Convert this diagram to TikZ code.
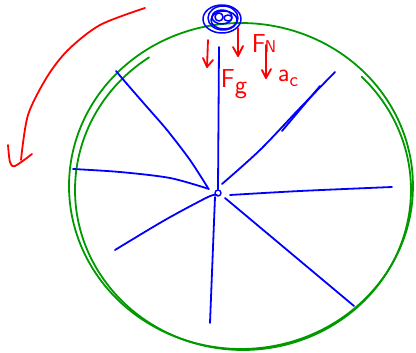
\documentclass[tikz,border=0pt]{standalone}
\usepackage{tikz}
\tikzset{
  rim/.style={green!60!black,line width=1.8pt},
  spoke/.style={blue,line width=1.8pt},
  pen/.style={red,line width=1.8pt},
  lbl/.style={red,inner sep=0pt,font=\sffamily\fontsize{26}{26}\selectfont}
}
\begin{document}
\begin{tikzpicture}[x=1pt,y=-1pt,line cap=round,line join=round]
  \useasboundingbox (0,0) rectangle (416,353);
  % wheel rim, drawn twice by hand
  \draw[rim] plot[domain=0:360,samples=90,smooth] ({241+172*cos(\x)},{186+163*sin(\x)});
  \draw[rim] plot[domain=236:-45,samples=80,smooth] ({243+168*cos(\x)},{190+160*sin(\x)});
  % hub and spokes
  \node[spoke,circle,draw,line width=1.4pt,inner sep=0pt,minimum size=6pt] (hub) at (218,193) {};
  \draw[spoke] (219,47) -- (hub.north);
  \draw[spoke] (215,197) -- (210,323);
  \draw[spoke] plot[smooth] coordinates {(73,169) (120,172) (170,178) (209,189)};
  \draw[spoke] plot[smooth] coordinates {(230,195) (300,191) (392,187)};
  \draw[spoke] plot[smooth] coordinates {(116,71) (127,84) (147,107) (167,130) (190,160) (208,188)};
  \draw[spoke] plot[smooth] coordinates {(222,184) (260,150) (300,108) (335,72)};
  \draw[spoke] (282,131) -- (320,86);
  \draw[spoke] plot[smooth] coordinates {(115,250) (165,220) (208,197) (217,195)};
  \draw[spoke] (225,198) -- (354,306);
  % ball on top
  \foreach \cx/\cy/\rx/\ry in {222/19/19/14,223/18/15/12,224/20/13/9,222/17/10/7}{
    \draw[spoke,line width=1.5pt] (\cx,\cy) ellipse [x radius=\rx,y radius=\ry];
  }
  \draw[spoke,line width=1.5pt] (219,17) ellipse [x radius=4,y radius=4];
  \draw[spoke,line width=1.5pt] (228,18) ellipse [x radius=4,y radius=3];
  % sense of rotation
  \draw[pen] plot[smooth] coordinates {(145,8) (100,25) (68,50) (47,77) (28,115) (21,160)};
  \draw[pen] plot[smooth] coordinates {(8,145) (10,162) (15,166) (32,154)};
  % forces
  \draw[pen] (208,40) -- (207,67);
  \draw[pen] (203,58) -- (207,67) -- (213,60);
  \draw[pen] (238,28) -- (238,56);
  \draw[pen] (233,47) -- (238,56) -- (243,46);
  \draw[pen] (266,45) -- (266,78);
  \draw[pen] (262,70) -- (266,78) -- (271,69);
  \node[lbl] (fg) at (234,84) {F\raisebox{-6pt}{g}};
  \node[lbl] (fn) at (264,44) {F\kern-1pt{\fontsize{17}{17}\selectfont N}};
  \node[lbl] (ac) at (288,78) {a\raisebox{-5pt}{\fontsize{20}{20}\selectfont c}};
\end{tikzpicture}
\end{document}
